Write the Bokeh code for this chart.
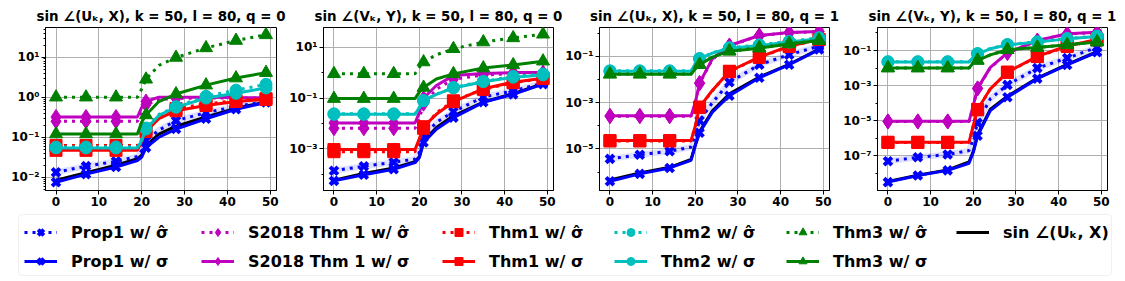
from bokeh.plotting import figure
from bokeh.layouts import column, row
from bokeh.models import Range1d, FixedTicker, Legend, LegendItem, BoxAnnotation
from bokeh.embed import file_html
from bokeh.resources import INLINE

# ---------------- data ----------------
X_PTS = [0, 7, 14, 19, 20, 21, 24, 28, 35, 42, 49]
MARK_X = [0, 7, 14, 21, 28, 35, 42, 49]
X_TICKS = [0, 10, 20, 30, 40, 50]

TITLES = [
    "sin \u2220(U\u2096, X), k = 50, l = 80, q = 0",
    "sin \u2220(V\u2096, Y), k = 50, l = 80, q = 0",
    "sin \u2220(U\u2096, X), k = 50, l = 80, q = 1",
    "sin \u2220(V\u2096, Y), k = 50, l = 80, q = 1",
]
SERIES_LABELS = [
    "Prop1 w/ \u03c3\u0302", "Prop1 w/ \u03c3",
    "S2018 Thm 1 w/ \u03c3\u0302", "S2018 Thm 1 w/ \u03c3",
    "Thm1 w/ \u03c3\u0302", "Thm1 w/ \u03c3",
    "Thm2 w/ \u03c3\u0302", "Thm2 w/ \u03c3",
    "Thm3 w/ \u03c3\u0302", "Thm3 w/ \u03c3",
]
TRUE_LABEL = "sin \u2220(U\u2096, X)"

# panel 1: sin(U_k, X), q = 0
p1_true      = [0.0085, 0.013, 0.020, 0.029, 0.036, 0.062, 0.12, 0.19, 0.32, 0.53, 0.76]
p1_prop1_hat = [0.0133, 0.019, 0.025, 0.033, 0.047, 0.083, 0.15, 0.26, 0.41, 0.59, 0.77]
p1_prop1_sig = [0.0075, 0.012, 0.018, 0.026, 0.032, 0.055, 0.10, 0.16, 0.29, 0.50, 0.74]
p1_s2018_hat = [0.25, 0.25, 0.25, 0.25, 0.45, 0.65, 0.88, 0.93, 0.95, 0.95, 0.95]
p1_s2018_sig = [0.32, 0.32, 0.32, 0.32, 0.56, 0.78, 1.0, 1.0, 1.0, 0.98, 0.97]
p1_thm1_hat  = [0.062, 0.062, 0.062, 0.062, 0.09, 0.16, 0.33, 0.52, 0.68, 0.82, 0.92]
p1_thm1_sig  = [0.047, 0.047, 0.047, 0.047, 0.08, 0.14, 0.29, 0.46, 0.62, 0.78, 0.88]
p1_thm2_hat  = [0.057, 0.057, 0.057, 0.057, 0.09, 0.17, 0.37, 0.58, 1.05, 1.5, 2.1]
p1_thm2_sig  = [0.054, 0.054, 0.054, 0.054, 0.083, 0.16, 0.35, 0.56, 0.95, 1.25, 1.7]
p1_thm3_hat  = [1.0, 1.0, 1.0, 1.0, 1.6, 2.8, 6.2, 9.8, 17, 26, 36]
p1_thm3_sig  = [0.12, 0.12, 0.12, 0.12, 0.24, 0.36, 0.78, 1.2, 2.0, 3.0, 4.1]

# panel 2: sin(V_k, Y), q = 0
p2_true      = [6e-5, 1.1e-4, 1.8e-4, 3.2e-4, 5e-4, 2e-3, 7e-3, 0.020, 0.070, 0.15, 0.37]
p2_prop1_hat = [1.4e-4, 2.1e-4, 3.0e-4, 4.0e-4, 7.2e-4, 3.2e-3, 0.011, 0.029, 0.11, 0.19, 0.39]
p2_prop1_sig = [5.6e-5, 9.8e-5, 1.6e-4, 2.9e-4, 4.5e-4, 1.8e-3, 0.006, 0.017, 0.068, 0.14, 0.35]
p2_s2018_hat = [0.0065, 0.0065, 0.0065, 0.0065, 0.015, 0.06, 0.22, 0.55, 0.80, 0.90, 0.95]
p2_s2018_sig = [0.0105, 0.0105, 0.0105, 0.0105, 0.027, 0.098, 0.31, 0.76, 0.93, 1.0, 1.0]
p2_thm1_hat  = [0.00078, 0.00078, 0.00078, 0.00078, 0.0022, 0.0065, 0.026, 0.078, 0.22, 0.40, 0.58]
p2_thm1_sig  = [0.00095, 0.00095, 0.00095, 0.00095, 0.0025, 0.0075, 0.023, 0.072, 0.23, 0.42, 0.60]
p2_thm2_hat  = [0.024, 0.024, 0.024, 0.024, 0.043, 0.080, 0.14, 0.26, 0.45, 0.70, 0.88]
p2_thm2_sig  = [0.023, 0.023, 0.023, 0.023, 0.042, 0.079, 0.14, 0.25, 0.44, 0.66, 0.81]
p2_thm3_hat  = [0.9, 0.9, 0.9, 0.9, 1.6, 2.6, 5.0, 8.6, 15.8, 23, 32]
p2_thm3_sig  = [0.095, 0.095, 0.095, 0.095, 0.17, 0.26, 0.56, 0.89, 1.5, 2.0, 2.8]

# panel 3: sin(U_k, X), q = 1
p3_true      = [4.5e-7, 9e-7, 1.6e-6, 3.5e-6, 1.5e-5, 5.5e-5, 4.5e-4, 2.4e-3, 0.013, 0.046, 0.21]
p3_prop1_hat = [3.7e-6, 5.6e-6, 7.9e-6, 1.2e-5, 3.8e-5, 1.7e-4, 1.0e-3, 7.7e-3, 0.044, 0.12, 0.28]
p3_prop1_sig = [4e-7, 8.3e-7, 1.5e-6, 3.2e-6, 1.4e-5, 5e-5, 3.9e-4, 2.0e-3, 0.012, 0.044, 0.20]
p3_s2018_hat = [2.6e-4, 2.6e-4, 2.6e-4, 2.6e-4, 9.5e-4, 6.8e-3, 0.075, 0.29, 0.80, 1.08, 1.18]
p3_s2018_sig = [2.7e-4, 2.7e-4, 2.7e-4, 2.7e-4, 1.0e-3, 7.2e-3, 0.079, 0.30, 0.81, 1.10, 1.20]
p3_thm1_hat  = [2.2e-5, 2.2e-5, 2.2e-5, 2.2e-5, 9.5e-5, 6.2e-4, 3.3e-3, 0.022, 0.092, 0.27, 0.54]
p3_thm1_sig  = [2.3e-5, 2.3e-5, 2.3e-5, 2.3e-5, 1.0e-4, 6.5e-4, 3.4e-3, 0.023, 0.094, 0.28, 0.55]
p3_thm2_hat  = [0.024, 0.024, 0.024, 0.024, 0.050, 0.082, 0.145, 0.24, 0.32, 0.45, 0.65]
p3_thm2_sig  = [0.023, 0.023, 0.023, 0.023, 0.048, 0.079, 0.14, 0.23, 0.30, 0.42, 0.59]
p3_thm3_hat  = [0.0175, 0.0175, 0.0175, 0.0175, 0.030, 0.045, 0.096, 0.17, 0.24, 0.36, 0.50]
p3_thm3_sig  = [0.017, 0.017, 0.017, 0.017, 0.029, 0.044, 0.094, 0.17, 0.23, 0.35, 0.49]

# panel 4: sin(V_k, Y), q = 1
p4_true      = [3.5e-9, 8e-9, 1.6e-8, 4.5e-8, 1.8e-7, 1.6e-6, 4.5e-5, 2.5e-4, 2.7e-3, 0.016, 0.085]
p4_prop1_hat = [5e-8, 8.3e-8, 1.2e-7, 2e-7, 9.3e-7, 7.6e-6, 1.8e-4, 1.1e-3, 0.010, 0.037, 0.15]
p4_prop1_sig = [3.2e-9, 7.6e-9, 1.5e-8, 3.8e-8, 1.6e-7, 1.4e-6, 3.8e-5, 2.2e-4, 2.5e-3, 0.015, 0.080]
p4_s2018_hat = [9.0e-6, 9.0e-6, 9.0e-6, 9.0e-6, 7.0e-5, 6.8e-4, 0.0105, 0.072, 0.36, 0.88, 1.08]
p4_s2018_sig = [9.3e-6, 9.3e-6, 9.3e-6, 9.3e-6, 7.4e-5, 7.0e-4, 0.011, 0.074, 0.37, 0.89, 1.10]
p4_thm1_hat  = [5.8e-7, 5.8e-7, 5.8e-7, 5.8e-7, 5.2e-6, 4.2e-5, 6.4e-4, 5.7e-3, 0.045, 0.17, 0.41]
p4_thm1_sig  = [6e-7, 6e-7, 6e-7, 6e-7, 5.4e-6, 4.4e-5, 6.6e-4, 5.9e-3, 0.046, 0.18, 0.42]
p4_thm2_hat  = [0.023, 0.023, 0.023, 0.023, 0.043, 0.067, 0.13, 0.22, 0.31, 0.48, 0.66]
p4_thm2_sig  = [0.022, 0.022, 0.022, 0.022, 0.042, 0.065, 0.125, 0.21, 0.30, 0.46, 0.63]
p4_thm3_hat  = [0.0102, 0.0102, 0.0102, 0.0102, 0.020, 0.028, 0.057, 0.11, 0.15, 0.21, 0.31]
p4_thm3_sig  = [0.010, 0.010, 0.010, 0.010, 0.020, 0.027, 0.056, 0.11, 0.15, 0.21, 0.30]

Y_LO_EXP = [-2.33, -4.63, -6.8, -8.97]
Y_HI_EXP = [1.74, 1.77, 0.255, 0.31]
MAJOR_EXP = [[-2, -1, 0, 1], [-3, -1, 1], [-5, -3, -1], [-7, -5, -3, -1]]

PANELS = [
    [p1_true, p1_prop1_hat, p1_prop1_sig, p1_s2018_hat, p1_s2018_sig, p1_thm1_hat,
     p1_thm1_sig, p1_thm2_hat, p1_thm2_sig, p1_thm3_hat, p1_thm3_sig],
    [p2_true, p2_prop1_hat, p2_prop1_sig, p2_s2018_hat, p2_s2018_sig, p2_thm1_hat,
     p2_thm1_sig, p2_thm2_hat, p2_thm2_sig, p2_thm3_hat, p2_thm3_sig],
    [p3_true, p3_prop1_hat, p3_prop1_sig, p3_s2018_hat, p3_s2018_sig, p3_thm1_hat,
     p3_thm1_sig, p3_thm2_hat, p3_thm2_sig, p3_thm3_hat, p3_thm3_sig],
    [p4_true, p4_prop1_hat, p4_prop1_sig, p4_s2018_hat, p4_s2018_sig, p4_thm1_hat,
     p4_thm1_sig, p4_thm2_hat, p4_thm2_sig, p4_thm3_hat, p4_thm3_sig],
]

# ---------------- styles ----------------
FONT = "DejaVu Sans"
BLUE, MAG, RED, CYAN, GREEN = "#0000ff", "#bf00bf", "#ff0000", "#00bfbf", "#008000"
STYLES = [
    (BLUE, True, "x", 11), (BLUE, False, "x", 11),
    (MAG, True, "diamond", 15), (MAG, False, "diamond", 15),
    (RED, True, "square", 12), (RED, False, "square", 12),
    (CYAN, True, "circle", 12), (CYAN, False, "circle", 12),
    (GREEN, True, "triangle", 13), (GREEN, False, "triangle", 13),
]
DOT = "3 5"
LW = 3

SUP = {"-": "\u207b", "0": "\u2070", "1": "\u00b9", "2": "\u00b2", "3": "\u00b3",
       "4": "\u2074", "5": "\u2075", "6": "\u2076", "7": "\u2077", "8": "\u2078", "9": "\u2079"}


def sup_label(e):
    return "10" + "".join(SUP[c] for c in str(e))


mark_idx = [X_PTS.index(m) for m in MARK_X]

# figure geometry: (width, border_left, border_right)
GEOM = [(286, 45, 10), (276, 36, 9), (278, 36, 11), (284, 36, 17)]
FIG_H, B_TOP, B_BOT = 210, 27, 20


def add_series(p, ys, color, dotted, marker, size, extra_band=False):
    mx = [X_PTS[i] for i in mark_idx]
    my = [ys[i] for i in mark_idx]
    if extra_band:
        p.line(X_PTS, ys, line_color=color, line_width=6, line_alpha=0.12)
    kw = dict(line_color=color, line_width=LW)
    if dotted:
        kw["line_dash"] = DOT
    p.line(X_PTS, ys, **kw)
    if marker == "x":
        p.scatter(mx, my, marker="x", size=size, line_color=color, line_width=4)
    else:
        p.scatter(mx, my, marker=marker, size=size, fill_color=color, line_color=color,
                  line_width=1)


figs = []
for k in range(4):
    w, bl, br = GEOM[k]
    p = figure(width=w, height=FIG_H, y_axis_type="log",
               x_range=Range1d(-2.45, 51.45),
               y_range=Range1d(10 ** Y_LO_EXP[k], 10 ** Y_HI_EXP[k]),
               toolbar_location=None, output_backend="svg",
               min_border_left=bl, min_border_right=br,
               min_border_top=B_TOP, min_border_bottom=B_BOT)
    p.title.text = TITLES[k]
    p.title.text_font = FONT
    p.title.text_font_size = "13.4px"
    p.title.text_font_style = "bold"
    p.title.text_color = "black"
    p.title.align = "center"
    p.title.standoff = 7
    p.title.offset = 0
    p.outline_line_color = "black"
    p.outline_line_alpha = 1
    p.outline_line_width = 1

    majors = [10.0 ** e for e in MAJOR_EXP[k]]
    if k == 0:
        minors = [m * 10.0 ** e for e in range(-3, 2) for m in range(2, 10)]
    else:
        minors = [10.0 ** e for e in range(-10, 2) if e not in MAJOR_EXP[k]]
    yt = FixedTicker(ticks=majors, minor_ticks=minors)
    p.yaxis.ticker = yt
    p.ygrid.ticker = yt
    p.yaxis.major_label_overrides = {10.0 ** e: sup_label(e) for e in MAJOR_EXP[k]}
    xt = FixedTicker(ticks=X_TICKS, minor_ticks=[])
    p.xaxis.ticker = xt
    p.xgrid.ticker = xt

    for ax in (p.xaxis, p.yaxis):
        ax.major_label_text_font = FONT
        ax.major_label_text_font_size = "12px"
        ax.major_label_text_font_style = "bold"
        ax.major_label_text_color = "black"
        ax.axis_line_color = "black"
        ax.major_tick_line_color = "black"
        ax.minor_tick_line_color = "black"
        ax.major_tick_out = 4
        ax.major_tick_in = 0
        ax.minor_tick_out = 2
        ax.minor_tick_in = 0
        ax.major_label_standoff = 2
    p.grid.grid_line_color = "#b0b0b0"
    p.grid.grid_line_width = 1

    data = PANELS[k]
    p.line(X_PTS, data[0], line_color="black", line_width=LW)
    for j in range(10):
        c, d, m, s = STYLES[j]
        add_series(p, data[j + 1], c, d, m, s, extra_band=(j == 0))
    figs.append(p)

# ---------------- legend strip ----------------
LW_TOT = sum(g[0] for g in GEOM)
LH = 70
lf = figure(width=LW_TOT, height=LH, x_range=Range1d(0, LW_TOT), y_range=Range1d(0, LH),
            toolbar_location=None, output_backend="svg", min_border=0,
            x_axis_location=None, y_axis_location=None)
lf.outline_line_color = None
lf.grid.visible = False
lf.add_layout(BoxAnnotation(left=18, right=1111, bottom=5, top=66, fill_color="white",
                            fill_alpha=0.8, line_color="#cccccc", line_width=1,
                            border_radius=4))

OFF = [-1000]  # dummy point outside the legend strip's visible range
COL_X = [24, 201, 442, 614, 786, 956]
legend_kw = dict(orientation="vertical", padding=0, margin=0, spacing=9,
                 glyph_width=33, glyph_height=20, label_height=20, label_standoff=14,
                 label_text_font=FONT, label_text_font_size="16px",
                 label_text_font_style="bold", label_text_color="black",
                 border_line_alpha=0, background_fill_alpha=0)
for col in range(5):
    items = []
    for j in (2 * col, 2 * col + 1):
        c, d, m, s = STYLES[j]
        kw = dict(line_color=c, line_width=LW)
        if d:
            kw["line_dash"] = DOT
        rl = lf.line(OFF, OFF, **kw)
        if m == "x":
            rs = lf.scatter(OFF, OFF, marker="x", size=s, line_color=c, line_width=4)
        else:
            rs = lf.scatter(OFF, OFF, marker=m, size=s, fill_color=c, line_color=c)
        items.append(LegendItem(label=SERIES_LABELS[j], renderers=[rl, rs]))
    lf.add_layout(Legend(items=items, location=(COL_X[col], 9), **legend_kw))
rt = lf.line(OFF, OFF, line_color="black", line_width=LW)
lf.add_layout(Legend(items=[LegendItem(label=TRUE_LABEL, renderers=[rt])],
                     location=(COL_X[5], 38), **legend_kw))

layout = column(row(*figs), lf)
open("out.html", "w").write(file_html(layout, INLINE))
